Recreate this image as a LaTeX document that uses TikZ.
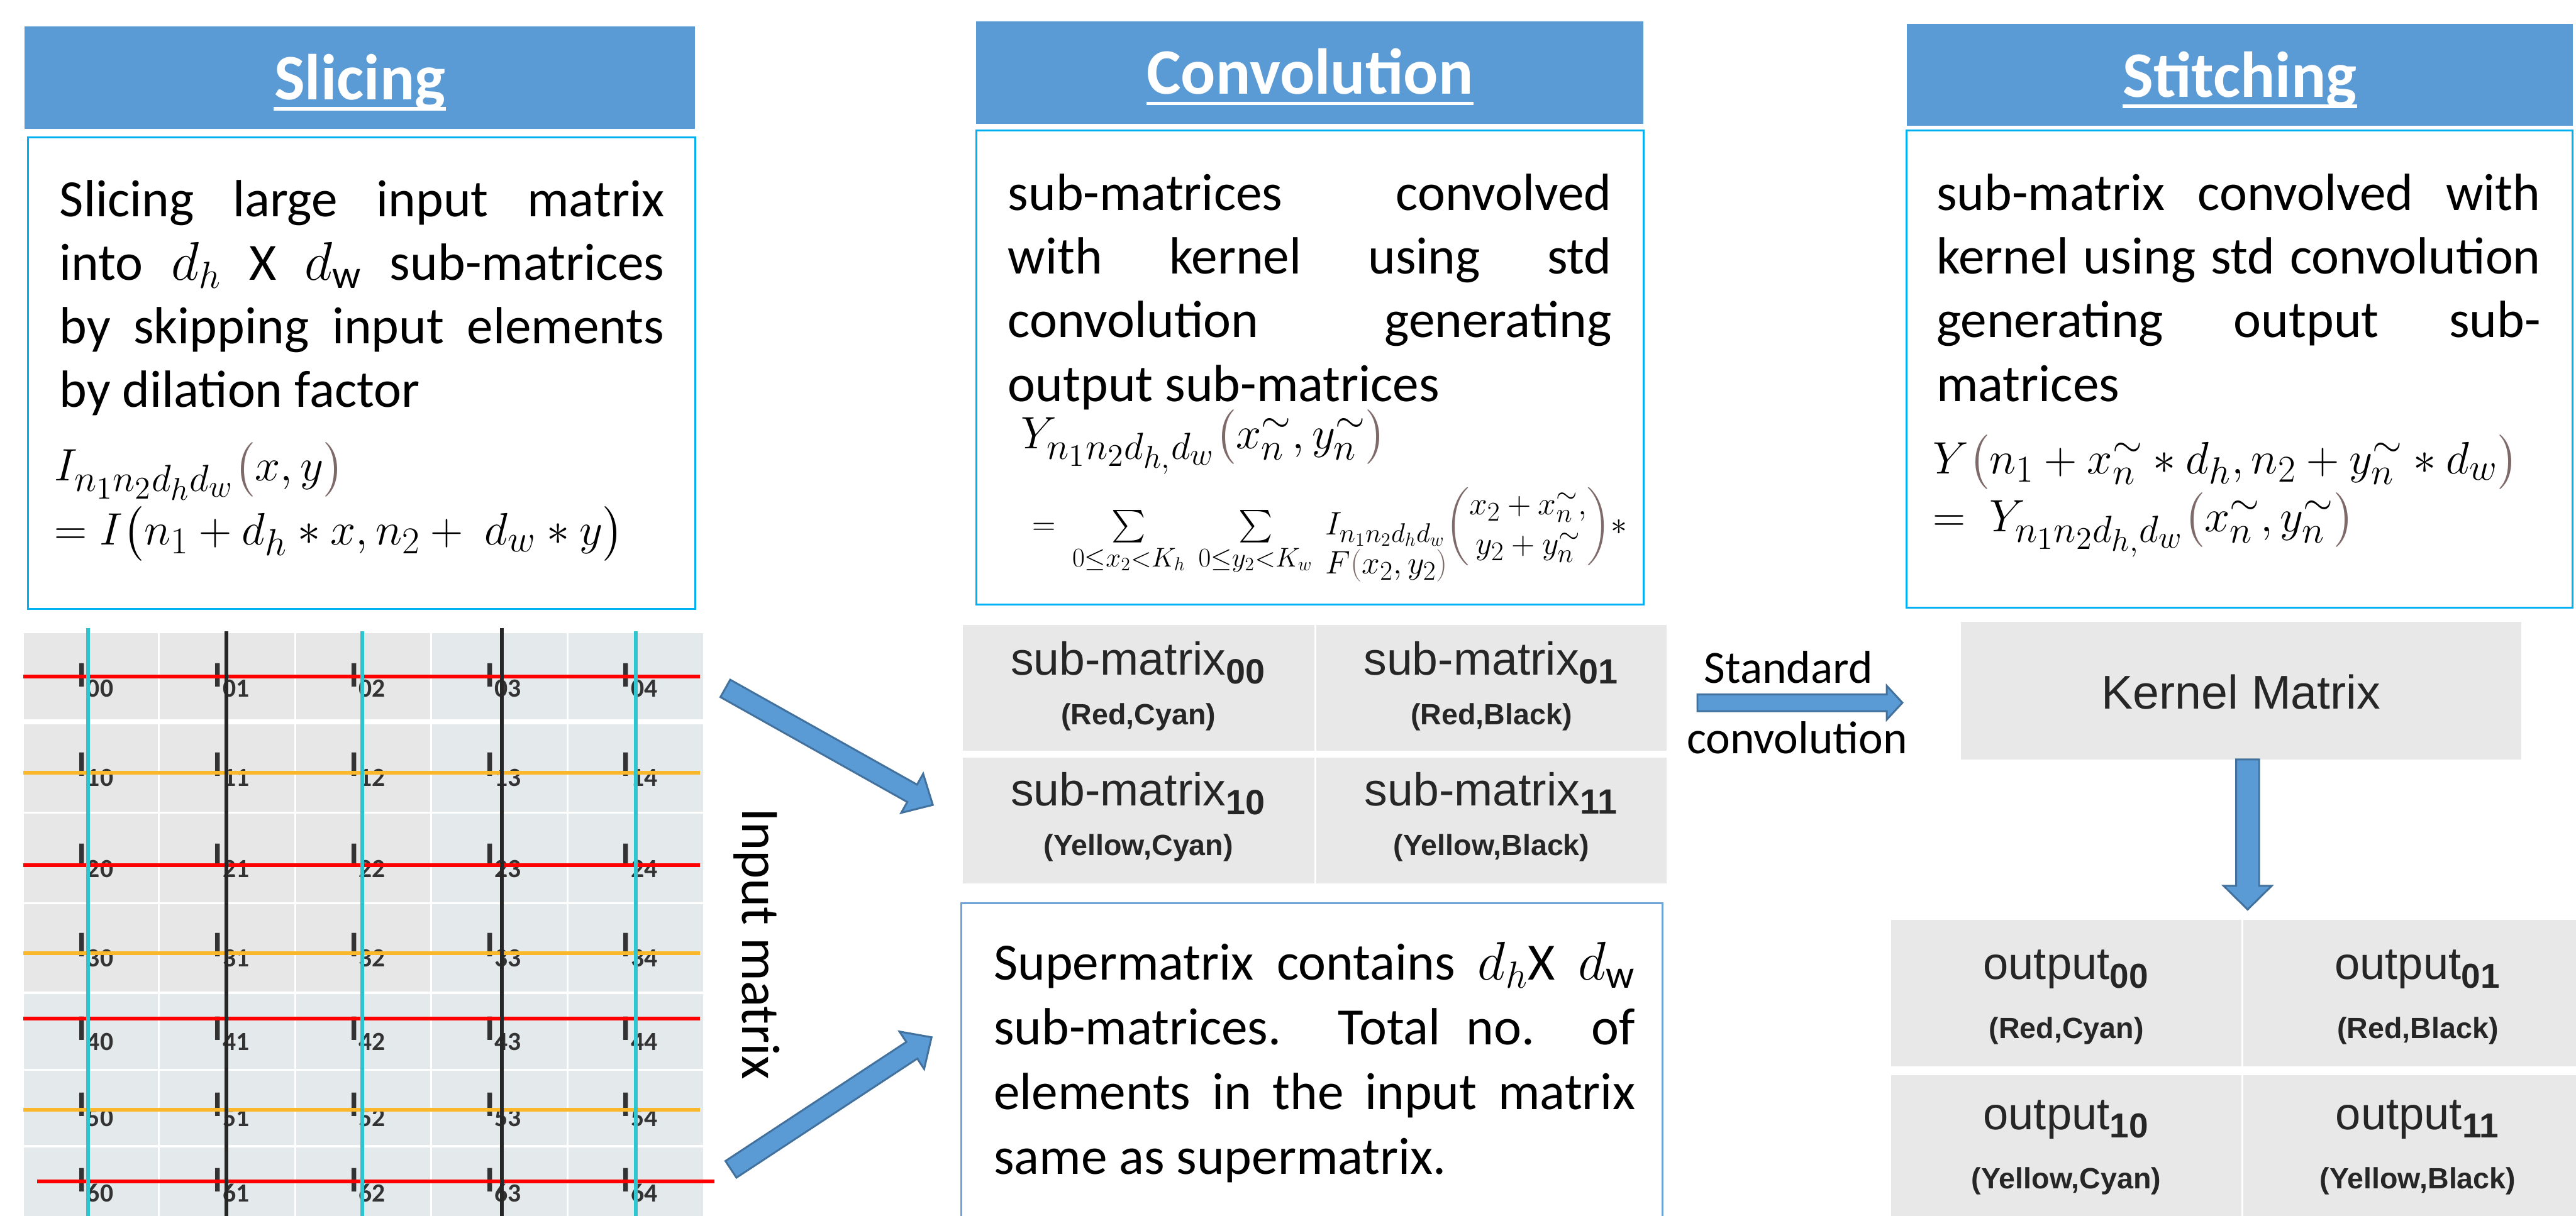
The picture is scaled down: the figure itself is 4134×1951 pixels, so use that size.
\documentclass[tikz,border=0pt]{standalone}
\usepackage{fontspec}
\usepackage{amsmath}
\usepackage{graphicx}
\setmainfont{Carlito}
\newfontfamily\arialf{Liberation Sans}
\usetikzlibrary{calc}
\hyphenpenalty=10000
\exhyphenpenalty=10000
\renewcommand{\defaultscriptratio}{.76}
\renewcommand{\defaultscriptscriptratio}{.6}
\definecolor{hdrblue}{HTML}{5B9BD5}
\definecolor{boxline}{HTML}{00B0F0}
\definecolor{superline}{HTML}{6FA3D8}
\definecolor{cellgray}{HTML}{E8E8E8}
\definecolor{gridgray}{HTML}{E7E7E7}
\definecolor{gridblue}{HTML}{E4E9EC}
\definecolor{arrfill}{HTML}{5B9BD5}
\definecolor{arrline}{HTML}{41719C}
\definecolor{parc}{HTML}{7F6A6A}
\definecolor{txtgray}{HTML}{262626}
\definecolor{lblgray}{HTML}{333333}
\definecolor{hred}{HTML}{FF0000}
\definecolor{horange}{HTML}{FBB72A}
\definecolor{vcyan}{HTML}{2EC4D0}
\definecolor{vblack}{HTML}{262626}
\tikzset{
  hdr/.style={fill=hdrblue, draw=none, inner sep=0pt},
  htxt/.style={anchor=base, inner sep=0pt, text=white, font=\bfseries\fontsize{10.4mm}{12mm}\selectfont},
  hline/.style={white, line width=0.06cm},
  tbox/.style={draw=boxline, line width=0.03cm, fill=white, inner sep=0pt},
  sbox/.style={draw=superline, line width=0.03cm, fill=white, inner sep=0pt},
  body/.style={anchor=north west, inner sep=0pt, align=justify, font=\fontsize{8.4mm}{10.2mm}\selectfont},
  mathf/.style={anchor=base west, inner sep=0pt, font=\fontsize{8.0mm}{10mm}\selectfont},
  cell/.style={fill=cellgray, draw=none, inner sep=0pt},
  celltxt/.style={anchor=base, inner sep=0pt, text=txtgray, font=\arialf\fontsize{7.4mm}{8mm}\selectfont},
  cellsub/.style={anchor=base, inner sep=0pt, text=txtgray, font=\arialf\bfseries\fontsize{4.7mm}{5mm}\selectfont},
  lbl/.style={anchor=base west, inner sep=0pt, text=lblgray, font=\bfseries\fontsize{5.8mm}{6mm}\selectfont},
  plain/.style={inner sep=0pt, font=\fontsize{7.4mm}{8mm}\selectfont},
  blockarr/.style={fill=arrfill, draw=arrline, line width=0.03cm, line join=miter},
  gline/.style={line width=0.06cm}
}
\newcommand{\blockarrow}[5]{%
  \coordinate (hb) at ($(#2)!#5!(#1)$);
  \draw[blockarr] ($(#1)!#3!90:(#2)$) -- ($(hb)!#3!-90:(#1)$) -- ($(hb)!#4!-90:(#1)$) -- (#2)
    -- ($(hb)!#4!90:(#1)$) -- ($(hb)!#3!90:(#1)$) -- ($(#1)!#3!-90:(#2)$) -- cycle;}
\begin{document}
\begin{tikzpicture}[x=0.01cm, y=-0.01cm]
\useasboundingbox (0,0) rectangle (4134,1951);
\fill[white] (0,0) rectangle (4134,1951);

% ---------- headers ----------
\node[hdr, minimum width=10.75cm, minimum height=1.65cm] (h1) at (577.5,124.5) {};
\node[hdr, minimum width=10.70cm, minimum height=1.65cm] (h2) at (2102,116.5) {};
\node[hdr, minimum width=10.69cm, minimum height=1.64cm] (h3) at (3594.5,120) {};
\node[htxt] (t1) at (577.5,160) {Slicing};
\node[htxt] (t2) at (2102,151) {Convolution};
\node[htxt] (t3) at (3594.5,156) {Stitching};
\foreach \t in {t1,t2,t3}{
  \draw[hline] ([yshift=-0.15cm]\t.base west) -- ([yshift=-0.15cm]\t.base east);}

% ---------- text boxes ----------
\node[tbox, minimum width=10.70cm, minimum height=7.56cm] (b1) at (580,599) {};
\node[tbox, minimum width=10.70cm, minimum height=7.60cm] (b2) at (2102,590) {};
\node[tbox, minimum width=10.68cm, minimum height=7.65cm] (b3) at (3594,592.5) {};

\node[body, text width=9.70cm] (p1) at (95,280)
 {\rule{0pt}{6.7mm}Slicing large input matrix\linebreak into $d_h$ X $d_{\mathrm{w}}$ sub-matrices\linebreak by skipping input elements\linebreak by dilation factor};
\node[body, text width=9.68cm] (p2) at (1617,270)
 {\rule{0pt}{6.7mm}sub-matrices convolved\linebreak with kernel using std\linebreak convolution generating\linebreak output sub-matrices};
\node[body, text width=9.69cm] (p3) at (3107,270)
 {\rule{0pt}{6.7mm}sub-matrix convolved with\linebreak kernel using std convolution\linebreak generating output sub-\linebreak matrices};

% formulas
\node[mathf] (f1a) at (87,772) {$I_{n_1n_2d_hd_w}\textcolor{parc}{\bigl(}x,y\textcolor{parc}{\bigr)}$};
\node[mathf] (f1b) at (87,875) {$= I\bigl(n_1+d_h\ast x, n_2+\ d_w\ast y\bigr)$};
\node[mathf] (f2a) at (1638,720) {$Y_{n_1n_2d_{h,}d_w}\textcolor{parc}{\bigl(}x_n^{\sim}, y_n^{\sim}\textcolor{parc}{\bigr)}$};
\node[anchor=base west, inner sep=0pt, font=\fontsize{7.6mm}{9mm}\selectfont] (f2b) at (1656,858)
 {\resizebox{9.54cm}{!}{$=\ \sum\limits_{0\le x_2<K_h}\ \sum\limits_{0\le y_2<K_w}\
   \vtop{\hbox{$I_{n_1n_2d_hd_w}{\color{parc}\left(\color{black}\begin{matrix}x_2+x_n^{\sim},\\ y_2+y_n^{\sim}\end{matrix}\color{parc}\right)}\ast$}\kern-12pt
   \hbox{$F\textcolor{parc}{(}x_2,y_2\textcolor{parc}{)}$}}$}};
\node[mathf] (f3a) at (3101,760) {$Y\textcolor{parc}{\bigl(}n_1+x_n^{\sim}\ast d_h, n_2+y_n^{\sim}\ast d_w\textcolor{parc}{\bigr)}$};
\node[mathf] (f3b) at (3101,853) {$=\ Y_{n_1n_2d_{h,}d_w}\textcolor{parc}{\bigl(}x_n^{\sim}, y_n^{\sim}\textcolor{parc}{\bigr)}$};

% ---------- input matrix grid ----------
\foreach \ya/\yb in {1016/1155,1163/1303,1306/1448,1451/1592,1596/1716,1719/1838,1842/1970}{
  \foreach \xa/\xb in {38/253,256/472,475/690,693/909,912/1128}{
    \fill[gridblue] (\xa,\ya) rectangle (\xb,\yb);}}
\foreach \ya/\yb in {1016/1155,1163/1303,1306/1448,1451/1592}{
  \foreach \xa/\xb in {38/253,256/472,475/690}{
    \fill[gridgray] (\xa,\ya) rectangle (\xb,\yb);}}
\foreach \ri/\yy in {0/1103,1/1246,2/1392,3/1536,4/1670,5/1792,6/1913}{
  \foreach \ci in {0,...,4}{
    \node[lbl] (l\ri\ci) at ({123+218.3*\ci},\yy) {I\raisebox{-1.6mm}{\fontsize{4.2mm}{4.2mm}\selectfont\ri\ci}};}}
\foreach \yy/\cc in {1086/hred,1240/horange,1389/hred,1530/horange,1635/hred,1781/horange}{
  \draw[gline, color=\cc] (37,\yy) -- (1123,\yy);}
\draw[gline, color=hred] (60,1896) -- (1147,1896);
\foreach \xx/\cc/\yt in {141/vcyan/1008,363/vblack/1013,581/vcyan/1013,805/vblack/1008,1020/vcyan/1013}{
  \draw[gline, color=\cc] (\xx,\yt) -- (\xx,1960);}

\node[rotate=-90, inner sep=0pt, font=\fontsize{8.7mm}{9mm}\selectfont] (inlbl) at (1214,1515) {Input matrix};

% ---------- sub-matrix table ----------
\node[cell, minimum width=5.64cm, minimum height=2.02cm] (s00) at (1827,1104) {};
\node[cell, minimum width=5.61cm, minimum height=2.02cm] (s01) at (2393.5,1104) {};
\node[cell, minimum width=5.64cm, minimum height=2.02cm] (s10) at (1827,1317) {};
\node[cell, minimum width=5.61cm, minimum height=2.02cm] (s11) at (2393.5,1317) {};
\node[celltxt] (s00a) at (1827,1083) {sub-matrix\textsubscript{\bfseries 00}};
\node[cellsub] (s00b) at (1827,1163) {(Red,Cyan)};
\node[celltxt] (s01a) at (2393.5,1083) {sub-matrix\textsubscript{\bfseries 01}};
\node[cellsub] (s01b) at (2393.5,1163) {(Red,Black)};
\node[celltxt] (s10a) at (1827,1293) {sub-matrix\textsubscript{\bfseries 10}};
\node[cellsub] (s10b) at (1827,1373) {(Yellow,Cyan)};
\node[celltxt] (s11a) at (2393.5,1293) {sub-matrix\textsubscript{\bfseries 11}};
\node[cellsub] (s11b) at (2393.5,1373) {(Yellow,Black)};

% supermatrix box
\node[sbox, minimum width=11.25cm, minimum height=5.4cm] (sup) at (2105.5,1720) {};
\node[body, text width=10.29cm, font=\fontsize{8.4mm}{10.4mm}\selectfont] (p4) at (1594,1505)
 {\rule{0pt}{6.7mm}Supermatrix contains $d_h$X $d_{\mathrm{w}}$\linebreak sub-matrices. Total no. of\linebreak elements in the input matrix\linebreak same as supermatrix.};

% standard convolution
\node[plain, anchor=base] (std1) at (2870,1097) {Standard};
\node[plain, anchor=base] (std2) at (2884,1210) {convolution};

% kernel
\node[cell, minimum width=8.99cm, minimum height=2.21cm] (ker) at (3596.5,1108.5) {};
\node[celltxt, font=\arialf\fontsize{7.6mm}{8mm}\selectfont] (kert) at (3596.5,1138) {Kernel Matrix};

% output table
\node[cell, minimum width=5.62cm, minimum height=2.35cm] (o00) at (3316,1594.5) {};
\node[cell, minimum width=5.60cm, minimum height=2.35cm] (o01) at (3880,1594.5) {};
\node[cell, minimum width=5.62cm, minimum height=2.44cm] (o10) at (3316,1848) {};
\node[cell, minimum width=5.60cm, minimum height=2.44cm] (o11) at (3880,1848) {};
\node[celltxt, font=\arialf\fontsize{7.3mm}{8mm}\selectfont] (o00a) at (3316,1572) {output\textsubscript{\bfseries 00}};
\node[cellsub] (o00b) at (3316,1667) {(Red,Cyan)};
\node[celltxt, font=\arialf\fontsize{7.3mm}{8mm}\selectfont] (o01a) at (3880,1572) {output\textsubscript{\bfseries 01}};
\node[cellsub] (o01b) at (3880,1667) {(Red,Black)};
\node[celltxt, font=\arialf\fontsize{7.3mm}{8mm}\selectfont] (o10a) at (3316,1813) {output\textsubscript{\bfseries 10}};
\node[cellsub] (o10b) at (3316,1908) {(Yellow,Cyan)};
\node[celltxt, font=\arialf\fontsize{7.3mm}{8mm}\selectfont] (o11a) at (3880,1813) {output\textsubscript{\bfseries 11}};
\node[cellsub] (o11b) at (3880,1908) {(Yellow,Black)};

% ---------- block arrows ----------
\coordinate (a1t) at (1164,1105);
\coordinate (a1h) at (1497,1292);
\coordinate (a2t) at (1173,1877);
\coordinate (a2h) at (1495,1665);
\coordinate (a3s) at (3607,1219);
\coordinate (a3h) at (3607,1460);
\coordinate (a4t) at (2724,1128);
\coordinate (a4h) at (3053,1128);
\blockarrow{a1t}{a1h}{0.16cm}{0.36cm}{0.38cm}
\blockarrow{a2t}{a2h}{0.16cm}{0.36cm}{0.38cm}
\blockarrow{a4t}{a4h}{0.135cm}{0.27cm}{0.25cm}
\blockarrow{a3s}{a3h}{0.185cm}{0.385cm}{0.38cm}
\end{tikzpicture}
\end{document}
